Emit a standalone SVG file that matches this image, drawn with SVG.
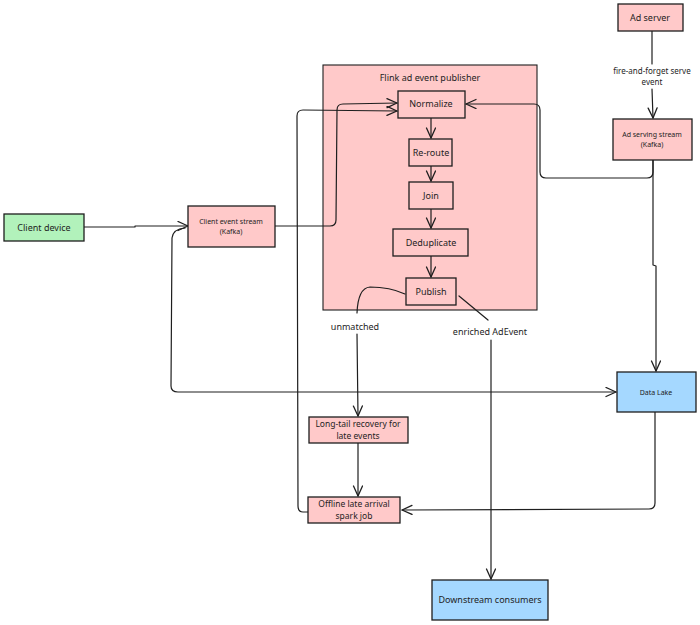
<svg xmlns="http://www.w3.org/2000/svg" width="700" height="625" viewBox="0 0 700 625">
<defs>
<marker id="ah" markerUnits="userSpaceOnUse" markerWidth="14" markerHeight="12" refX="11" refY="5" orient="auto">
<path d="M1,0.5 L11,5 L1,9.5" fill="none" stroke="#1e1e1e" stroke-width="1.3" stroke-linecap="round" stroke-linejoin="round"/>
</marker>
</defs>
<style>
.pink{fill:#ffc9c9;stroke:#1e1e1e;stroke-width:1.3}
.green{fill:#b2f2bb;stroke:#1e1e1e;stroke-width:1.3}
.blue{fill:#a5d8ff;stroke:#1e1e1e;stroke-width:1.3}
.c{fill:#ffc9c9;stroke:#1e1e1e;stroke-width:1.1}
text{font-family:"Noto Sans","DejaVu Sans",sans-serif;fill:#1e1e1e;text-anchor:middle}
.t{font-size:9px}
.m{font-size:8.5px}
.s{font-size:7px}
.l{font-size:8px}
.e{fill:none;stroke:#1e1e1e;stroke-width:1.2;stroke-linejoin:round;stroke-linecap:round}
</style>
<rect width="700" height="625" fill="#ffffff"/>

<g id="flink">
<rect class="c" x="323" y="65" width="214" height="245"/>
<text class="t" x="430" y="81">Flink ad event publisher</text>
</g>

<g id="connectors">
<path class="e" d="M84,227 L135,227 L135,226 L188,226" marker-end="url(#ah)"/>
<path class="e" d="M185,228 Q173,229 172,238 L171,386 Q171,392 178,392 L616,392" marker-end="url(#ah)"/>
<path class="e" d="M275,226 L330,226 Q336,226 336,220 L337,110 Q337,104 343,104 L397,103" marker-end="url(#ah)"/>
<path class="e" d="M308,512 L303,512 Q298,512 298,506 L297,116 Q297,110 303,110 L397,111" marker-end="url(#ah)"/>
<path class="e" d="M653,160 L653,172 Q653,178 647,178 L546,178 Q540,178 540,172 L540,110 Q540,104 534,104 L466,104" marker-end="url(#ah)"/>
<path class="e" d="M653,160 L653,265 L656,266 L656,371" marker-end="url(#ah)"/>
<path class="e" d="M652,31 L652,64"/>
<path class="e" d="M652,89 L653,118" marker-end="url(#ah)"/>
<path class="e" d="M431,118 L431,138" marker-end="url(#ah)"/>
<path class="e" d="M431,166 L431,181" marker-end="url(#ah)"/>
<path class="e" d="M431,209 L431,228" marker-end="url(#ah)"/>
<path class="e" d="M431,256 L431,277" marker-end="url(#ah)"/>
<path class="e" d="M405,294 Q390,287 370,287 Q358,288 357,313"/>
<path class="e" d="M357,334 L358,416" marker-end="url(#ah)"/>
<path class="e" d="M459,296 L488,320"/>
<path class="e" d="M491,340 L491,579" marker-end="url(#ah)"/>
<path class="e" d="M358,443 L358,496" marker-end="url(#ah)"/>
<path class="e" d="M655,412 L655,503 Q655,509 649,509 L402,510" marker-end="url(#ah)"/>
<text class="l" x="652" y="74">fire-and-forget serve</text>
<text class="l" x="652" y="85">event</text>
<text class="t" x="355" y="330">unmatched</text>
<text class="t" x="490" y="335">enriched AdEvent</text>
</g>

<g id="normalize"><rect class="pink" x="398" y="91" width="67" height="27"/><text class="t" x="431" y="107">Normalize</text></g>
<g id="reroute"><rect class="pink" x="409" y="139" width="43" height="27"/><text class="t" x="431" y="156">Re-route</text></g>
<g id="join"><rect class="pink" x="409" y="182" width="44" height="27"/><text class="t" x="431" y="199">Join</text></g>
<g id="dedup"><rect class="pink" x="393" y="229" width="75" height="27"/><text class="t" x="431" y="246">Deduplicate</text></g>
<g id="publish"><rect class="pink" x="406" y="278" width="50" height="27"/><text class="t" x="431" y="295">Publish</text></g>

<g id="adserver"><rect class="pink" x="618" y="4" width="65" height="27"/><text class="t" x="650" y="21">Ad server</text></g>
<g id="adstream"><rect class="pink" x="613" y="119" width="79" height="41"/><text class="s" x="652" y="137">Ad serving stream</text><text class="s" x="652" y="147">(Kafka)</text></g>
<g id="client"><rect class="green" x="4" y="214" width="80" height="27"/><text class="t" x="44" y="231">Client device</text></g>
<g id="clientstream"><rect class="pink" x="188" y="206" width="87" height="41"/><text class="s" x="231" y="224">Client event stream</text><text class="s" x="231" y="234">(Kafka)</text></g>
<g id="datalake"><rect class="blue" x="617" y="372" width="79" height="40"/><text class="s" x="656" y="395">Data Lake</text></g>
<g id="longtail"><rect class="pink" x="309" y="417" width="99" height="26"/><text class="m" x="358" y="427">Long-tail recovery for</text><text class="m" x="358" y="439">late events</text></g>
<g id="offline"><rect class="pink" x="308" y="497" width="92" height="26"/><text class="m" x="354" y="507">Offline late arrival</text><text class="m" x="354" y="519">spark job</text></g>
<g id="downstream"><rect class="blue" x="432" y="580" width="116" height="40"/><text class="t" x="490" y="603">Downstream consumers</text></g>
</svg>
